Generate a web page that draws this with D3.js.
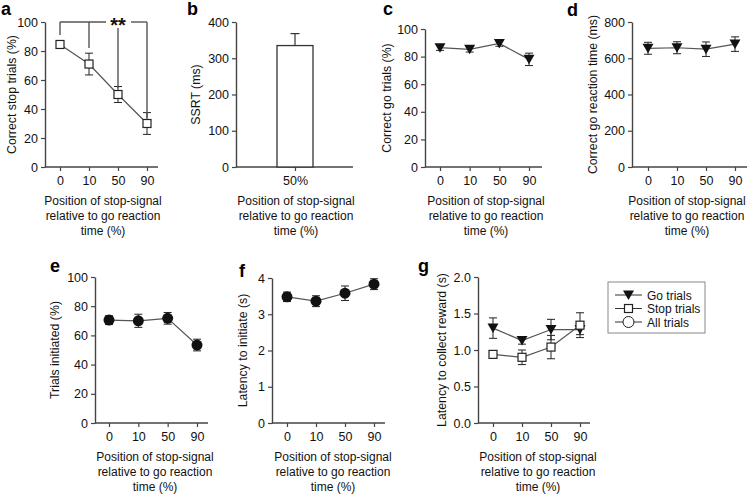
<!DOCTYPE html>
<html><head><meta charset="utf-8">
<script src="https://cdn.jsdelivr.net/npm/d3@7"></script>
<style>body{margin:0;background:#fff}svg{display:block;font-family:"Liberation Sans",Arial,sans-serif}</style>
</head><body>
<svg id="c" width="752" height="495"></svg>
<script>
// ---- data ----
const positions = ["0", "10", "50", "90"];
const stopCorrect = [84.5, 71, 50, 30];
const stopCorrectErr = [1.5, 7.5, 5.5, 7.5];
const sigDrop = [91, 82, 54.5, 34];          // bracket drop levels in panel a
const ssrtCategory = ["50%"];
const ssrtValue = [335];
const ssrtErr = [33];
const goCorrect = [86.5, 85.3, 89.5, 78];
const goCorrectErr = [2, 2, 2, 4.5];
const goRT = [655, 658, 650, 678];
const goRTErr = [33, 33, 40, 40];
const trialsInit = [70.5, 70, 71.7, 53.4];
const trialsInitErr = [3, 4.5, 4, 4];
const latInit = [3.48, 3.36, 3.58, 3.83];
const latInitErr = [0.13, 0.15, 0.2, 0.15];
const latGo = [1.30, 1.13, 1.28, 1.28];
const latGoErr = [0.14, 0.05, 0.14, 0.07];
const latStop = [0.94, 0.90, 1.04, 1.34];
const latStopErr = [0.03, 0.1, 0.16, 0.17];
const legendLabels = ["Go trials", "Stop trials", "All trials"];
const ticksPct = [0, 20, 40, 60, 80, 100];
const ticksSSRT = [0, 100, 200, 300, 400];
const ticksRT = [0, 200, 400, 600, 800];
const ticksLat = [0, 1, 2, 3, 4];
const ticksLatR = [0, 0.5, 1.0, 1.5, 2.0];
const xTitle = ["Position of stop-signal", "relative to go reaction", "time (%)"];

// ---- drawing ----
const svg = d3.select("#c");
const AX = "#444", TXT = "#111", LN = "#555", MK = "#111";

function symbol(g, type, x, y) {
  if (type === "square") {
    g.append("rect").attr("x", x - 4).attr("y", y - 4).attr("width", 8).attr("height", 8)
      .attr("fill", "#fff").attr("stroke", "#222").attr("stroke-width", 1.2);
  } else if (type === "tri") {
    g.append("path").attr("d", `M${x - 5.5},${y - 4.5}L${x + 5.5},${y - 4.5}L${x},${y + 5}Z`)
      .attr("fill", MK);
  } else if (type === "circle") {
    g.append("circle").attr("cx", x).attr("cy", y).attr("r", 5.5).attr("fill", MK);
  } else if (type === "ocircle") {
    g.append("circle").attr("cx", x).attr("cy", y).attr("r", 5.5).attr("fill", "#fff")
      .attr("stroke", "#222").attr("stroke-width", 1);
  }
}

function panel(p) {
  const g = svg.append("g");
  const y = d3.scaleLinear().domain(p.yDomain).range([p.yBottom, p.yTop]);
  let x;
  if (p.band) {
    x = d3.scaleBand().domain(p.cats).range(p.xRange).padding(0);
  } else {
    x = d3.scalePoint().domain(p.cats).range(p.xRange);
  }
  const xc = d => p.band ? x(d) + x.bandwidth() / 2 : x(d);

  // y axis
  const ya = g.append("g").attr("transform", `translate(${p.x0},0)`)
    .call(d3.axisLeft(y).tickValues(p.yTicks).tickSize(4).tickSizeOuter(0).tickFormat(p.fmt || d3.format("d")));
  ya.select(".domain").attr("stroke", AX).attr("stroke-width", 1.4);
  ya.selectAll(".tick line").attr("stroke", AX).attr("stroke-width", 1.2);
  ya.selectAll(".tick text").attr("font-size", 12.5).attr("fill", TXT).attr("x", -7)
    .attr("font-family", "Liberation Sans, Arial, sans-serif");

  // x axis
  const xaxis = p.band ? d3.axisBottom(d3.scalePoint().domain(p.cats).range([xc(p.cats[0]), xc(p.cats[0])]))
                       : d3.axisBottom(x);
  const xa = g.append("g").attr("transform", `translate(0,${p.yBottom})`)
    .call(xaxis.tickSize(4).tickSizeOuter(0));
  xa.select(".domain").remove();
  xa.append("line").attr("x1", p.x0).attr("x2", p.x1).attr("stroke", AX).attr("stroke-width", 1.4);
  xa.selectAll(".tick line").attr("stroke", AX).attr("stroke-width", 1.2);
  xa.selectAll(".tick text").attr("font-size", 12.5).attr("fill", TXT).attr("y", 9)
    .attr("font-family", "Liberation Sans, Arial, sans-serif");

  // x title
  xTitle.forEach((t, i) => {
    g.append("text").attr("x", p.titleX).attr("y", p.yBottom + 38 + i * 15).attr("text-anchor", "middle")
      .attr("font-size", 12).attr("fill", TXT).text(t);
  });
  // y title
  g.append("text").attr("transform", `translate(${p.yLabelX},${(p.yTop + p.yBottom) / 2}) rotate(-90)`)
    .attr("text-anchor", "middle").attr("dominant-baseline", "central")
    .attr("font-size", 12.3).attr("fill", TXT).text(p.yLabel);
  // letter
  g.append("text").attr("x", p.letterPos[0]).attr("y", p.letterPos[1]).attr("font-size", 18)
    .attr("font-weight", "bold").attr("fill", "#000").text(p.letter);

  if (p.bar) {
    p.cats.forEach((c, i) => {
      g.append("rect").attr("x", x(c)).attr("width", x.bandwidth())
        .attr("y", y(p.bar[i])).attr("height", y(0) - y(p.bar[i]))
        .attr("fill", "#fff").attr("stroke", "#333").attr("stroke-width", 1.3);
      const cx = xc(c);
      g.append("line").attr("x1", cx).attr("x2", cx).attr("y1", y(p.bar[i])).attr("y2", y(p.bar[i] + p.barErr[i]))
        .attr("stroke", "#333").attr("stroke-width", 1.2);
      g.append("line").attr("x1", cx - 4.5).attr("x2", cx + 4.5).attr("y1", y(p.bar[i] + p.barErr[i])).attr("y2", y(p.bar[i] + p.barErr[i]))
        .attr("stroke", "#333").attr("stroke-width", 1.2);
    });
  }

  (p.series || []).forEach(s => {
    const line = d3.line().x((d, i) => x(p.cats[i])).y(d => y(d));
    g.append("path").attr("d", line(s.values)).attr("fill", "none").attr("stroke", LN).attr("stroke-width", 1.2);
    s.values.forEach((v, i) => {
      const cx = x(p.cats[i]);
      const e = s.err[i];
      g.append("line").attr("x1", cx).attr("x2", cx).attr("y1", y(v - e)).attr("y2", y(v + e))
        .attr("stroke", "#222").attr("stroke-width", 1);
      [v - e, v + e].forEach(w => g.append("line").attr("x1", cx - 4).attr("x2", cx + 4)
        .attr("y1", y(w)).attr("y2", y(w)).attr("stroke", "#222").attr("stroke-width", 1));
    });
    s.values.forEach((v, i) => symbol(g, s.type, x(p.cats[i]), y(v)));
  });
  return { g, x, y };
}

// a
const A = panel({ letter: "a", letterPos: [1, 15], x0: 45, x1: 158, xRange: [60, 147], yTop: 22, yBottom: 167,
  yDomain: [0, 100], yTicks: ticksPct, cats: positions, yLabel: "Correct stop trials (%)", yLabelX: 12, titleX: 103,
  series: [{ values: stopCorrect, err: stopCorrectErr, type: "square" }] });
// significance bracket
(function () {
  const { g, x, y } = A;
  const top = y(100);
  positions.forEach((c, i) => {
    g.append("line").attr("x1", x(c)).attr("x2", x(c)).attr("y1", i === 2 ? top + 6 : top).attr("y2", y(sigDrop[i]))
      .attr("stroke", "#555").attr("stroke-width", 1.4);
  });
  const mid = x(positions[2]);
  g.append("line").attr("x1", x(positions[0])).attr("x2", mid - 12).attr("y1", top).attr("y2", top)
    .attr("stroke", "#555").attr("stroke-width", 1.4);
  g.append("line").attr("x1", mid + 13).attr("x2", x(positions[3])).attr("y1", top).attr("y2", top)
    .attr("stroke", "#555").attr("stroke-width", 1.4);
  g.append("text").attr("x", mid).attr("y", top + 10).attr("text-anchor", "middle")
    .attr("font-size", 20).attr("font-weight", "bold").attr("fill", "#111").text("**");
})();

// b
panel({ letter: "b", letterPos: [187, 15], x0: 236, x1: 353, xRange: [277, 313], band: true, yTop: 22, yBottom: 167,
  yDomain: [0, 400], yTicks: ticksSSRT, cats: ssrtCategory, yLabel: "SSRT (ms)", yLabelX: 196, titleX: 296,
  bar: ssrtValue, barErr: ssrtErr });

// c
panel({ letter: "c", letterPos: [383, 15], x0: 425, x1: 542, xRange: [440, 529], yTop: 29, yBottom: 167,
  yDomain: [0, 100], yTicks: ticksPct, cats: positions, yLabel: "Correct go trials (%)", yLabelX: 387, titleX: 486,
  series: [{ values: goCorrect, err: goCorrectErr, type: "tri" }] });

// d
panel({ letter: "d", letterPos: [567, 16], x0: 632, x1: 747, xRange: [648, 735], yTop: 22, yBottom: 167,
  yDomain: [0, 800], yTicks: ticksRT, cats: positions, yLabel: "Correct go reaction time (ms)", yLabelX: 593, titleX: 687,
  series: [{ values: goRT, err: goRTErr, type: "tri" }] });

// e
panel({ letter: "e", letterPos: [50, 272], x0: 95, x1: 208, xRange: [109, 197], yTop: 277, yBottom: 423,
  yDomain: [0, 100], yTicks: ticksPct, cats: positions, yLabel: "Trials initiated (%)", yLabelX: 55, titleX: 155,
  series: [{ values: trialsInit, err: trialsInitErr, type: "circle" }] });

// f
panel({ letter: "f", letterPos: [239, 277], x0: 272, x1: 385, xRange: [287, 374], yTop: 278, yBottom: 423,
  yDomain: [0, 4], yTicks: ticksLat, cats: positions, yLabel: "Latency to initiate (s)", yLabelX: 243, titleX: 333,
  series: [{ values: latInit, err: latInitErr, type: "circle" }] });

// g
panel({ letter: "g", letterPos: [418, 272], x0: 478, x1: 590, xRange: [493, 580], yTop: 277, yBottom: 423,
  yDomain: [0, 2], yTicks: ticksLatR, fmt: d3.format(".1f"), cats: positions, yLabel: "Latency to collect reward (s)",
  yLabelX: 442, titleX: 538,
  series: [{ values: latGo, err: latGoErr, type: "tri" }, { values: latStop, err: latStopErr, type: "square" }] });

// legend
(function () {
  const lg = svg.append("g");
  lg.append("rect").attr("x", 608).attr("y", 282).attr("width", 97).attr("height", 51)
    .attr("fill", "#fff").attr("stroke", "#888").attr("stroke-width", 1);
  const types = ["tri", "square", "ocircle"];
  legendLabels.forEach((t, i) => {
    const yy = 295 + i * 13.5;
    lg.append("line").attr("x1", 615).attr("x2", 642).attr("y1", yy).attr("y2", yy).attr("stroke", "#333").attr("stroke-width", 1);
    symbol(lg, types[i], 628.5, yy);
    lg.append("text").attr("x", 647).attr("y", yy + 4.5).attr("font-size", 12).attr("fill", TXT).text(t);
  });
})();
</script>
</body></html>
